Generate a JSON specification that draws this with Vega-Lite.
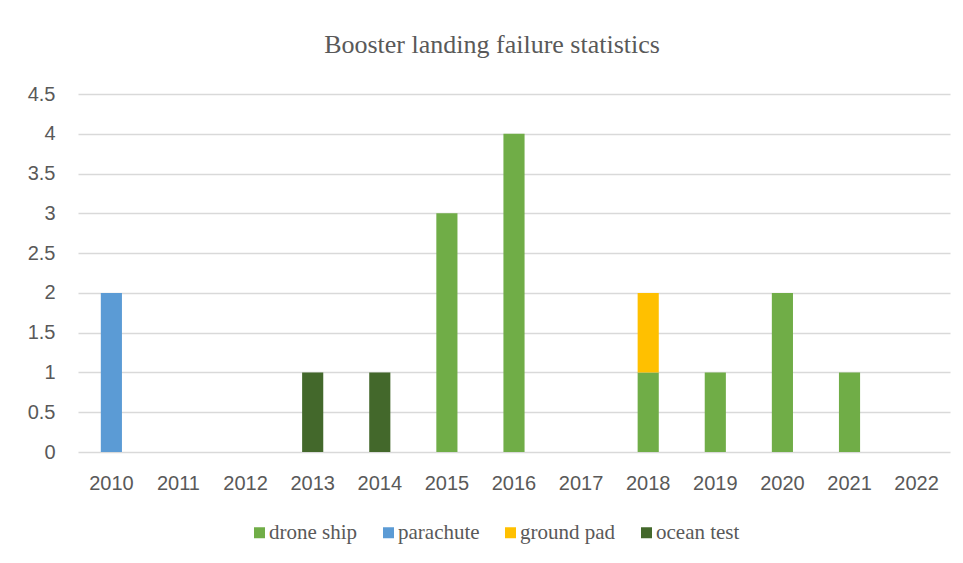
{
  "$schema": "https://vega.github.io/schema/vega-lite/v6.json",
  "autosize": {"type": "none"},
  "width": 872,
  "height": 358,
  "padding": {"left": 78, "top": 94, "right": 13, "bottom": 111},
  "background": "white",
  "title": {
    "text": "Booster landing failure statistics",
    "font": "Liberation Serif",
    "fontSize": 26,
    "fontWeight": "normal",
    "color": "#595959",
    "offset": 26,
    "dx": -22
  },
  "data": {
    "values": [
      {"year": "2010", "type": "parachute", "count": 2},
      {"year": "2013", "type": "ocean test", "count": 1},
      {"year": "2014", "type": "ocean test", "count": 1},
      {"year": "2015", "type": "drone ship", "count": 3},
      {"year": "2016", "type": "drone ship", "count": 4},
      {"year": "2018", "type": "drone ship", "count": 1},
      {"year": "2018", "type": "ground pad", "count": 1},
      {"year": "2019", "type": "drone ship", "count": 1},
      {"year": "2020", "type": "drone ship", "count": 2},
      {"year": "2021", "type": "drone ship", "count": 1}
    ]
  },
  "transform": [
    {"calculate": "indexof(['drone ship','parachute','ground pad','ocean test'], datum.type)", "as": "ord"}
  ],
  "mark": {"type": "bar"},
  "encoding": {
    "x": {
      "field": "year",
      "type": "nominal",
      "scale": {
        "domain": ["2010","2011","2012","2013","2014","2015","2016","2017","2018","2019","2020","2021","2022"],
        "paddingInner": 0.685,
        "paddingOuter": 0.34
      },
      "axis": {
        "title": null,
        "labelAngle": 0,
        "labelFont": "Liberation Sans",
        "labelFontSize": 20,
        "labelColor": "#595959",
        "labelPadding": 21,
        "ticks": false,
        "domain": false,
        "grid": false
      }
    },
    "y": {
      "field": "count",
      "type": "quantitative",
      "stack": "zero",
      "scale": {"domain": [0, 4.5], "nice": false},
      "axis": {
        "title": null,
        "values": [0, 0.5, 1, 1.5, 2, 2.5, 3, 3.5, 4, 4.5],
        "format": "~g",
        "labelFont": "Liberation Sans",
        "labelFontSize": 20,
        "labelColor": "#595959",
        "labelPadding": 23,
        "ticks": false,
        "domain": false,
        "grid": true,
        "gridColor": "#D9D9D9",
        "gridWidth": 1.5
      }
    },
    "color": {
      "field": "type",
      "type": "nominal",
      "scale": {
        "domain": ["drone ship", "parachute", "ground pad", "ocean test"],
        "range": ["#70AD47", "#5B9BD5", "#FFC000", "#43682B"]
      },
      "legend": {
        "title": null,
        "orient": "none",
        "legendX": 171,
        "legendY": 428,
        "direction": "horizontal",
        "symbolType": "square",
        "symbolSize": 121,
        "symbolStrokeWidth": 0,
        "labelFont": "Liberation Serif",
        "labelFontSize": 21,
        "labelColor": "#595959",
        "labelOffset": -1,
        "columnPadding": 20
      }
    },
    "order": {"field": "ord", "type": "quantitative"}
  },
  "config": {
    "view": {"stroke": null}
  }
}
